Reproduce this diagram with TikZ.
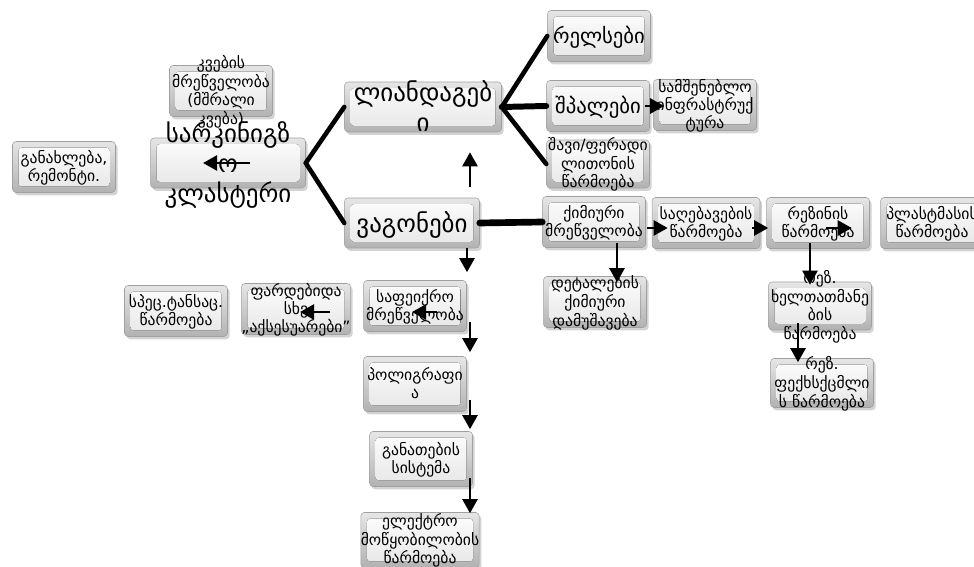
\documentclass[tikz,border=0pt]{standalone}
\usepackage{fontspec}
\setmainfont{DejaVu Sans}
\usetikzlibrary{arrows.meta,shadows,calc}
\definecolor{bevelEdge}{RGB}{160,160,160}
\definecolor{bevelDark}{RGB}{178,178,178}
\definecolor{bevelLight}{RGB}{253,253,253}
\definecolor{bevelMid}{RGB}{230,230,230}

\newcommand{\boxtext}[2][3.2pt]{\raisebox{-#1}{\begin{tabular}{@{}c@{}}#2\end{tabular}}}
\renewcommand{\arraystretch}{0.82}

\tikzset{
  boxItem/.style={rectangle, rounded corners=2pt, draw=bevelEdge, line width=0.3pt,
    top color=bevelMid, bottom color=bevelDark,
    drop shadow={opacity=0.35, shadow xshift=1.2pt, shadow yshift=-1.6pt},
    minimum width=2.06cm, minimum height=1.02cm, inner sep=0pt,
    text height=0pt, text depth=0pt,
    font=\fontsize{8.9}{12.6}\selectfont,
    path picture={\fill[top color=bevelLight, bottom color=bevelMid]
      ($(path picture bounding box.south west)+(6,-6)$) rectangle
      ($(path picture bounding box.north east)+(-6,6)$);}},
  bigText/.style={font=\fontsize{14.2}{21}\selectfont},
  trunkLine/.style={line width=2.6pt, line cap=round},
  flowArrow/.style={line width=1.5pt, -{Triangle[length=8pt,width=8.5pt]}}
}

\begin{document}
\begin{tikzpicture}[x=0.02cm, y=-0.02cm]
\useasboundingbox (0,0) rectangle (974,567);

\node[boxItem] (kveba) at (221,91) {\boxtext{კვების\\მრეწველობა\\(მშრალი\\კვება)}};
\node[boxItem, bigText, minimum width=3.1cm, minimum height=1cm] (klaster) at (228,163)
  {\boxtext[5.5pt]{სარკინიგზ\\ო\\კლასტერი}};
\node[boxItem] (ganaxl) at (64,167) {\boxtext{განახლება,\\რემონტი.}};

\node[boxItem, bigText, minimum width=3.14cm, minimum height=1cm] (liand) at (423,107)
  {\boxtext[5.5pt]{ლიანდაგებ\\ი}};
\node[boxItem, bigText, minimum width=2.7cm, minimum height=1cm] (vagon) at (412,223)
  {\boxtext[5.5pt]{ვაგონები}};

\node[boxItem] (relsi) at (599,36) {\boxtext{\fontsize{11.8}{13}\selectfont რელსები}};
\node[boxItem] (shpal) at (598,106) {\boxtext{\fontsize{11.8}{13}\selectfont შპალები}};
\node[boxItem] (samsh) at (705,105) {\boxtext{სამშენებლო\\ინფრასტრუქ\\ტურა}};
\node[boxItem, minimum height=0.96cm] (metal) at (598,164) {\boxtext{შავი/ფერადი\\ლითონის\\წარმოება}};

\node[boxItem] (kimia) at (594,222) {\boxtext{ქიმიური\\მრეწველობა}};
\node[boxItem, minimum width=2.16cm] (sagheb) at (706,223) {\boxtext{საღებავების\\წარმოება}};
\node[boxItem] (rezin) at (818,223) {\boxtext{რეზინის\\წარმოება}};
\node[boxItem] (plast) at (932,223) {\boxtext{პლასტმასის\\წარმოება}};
\node[boxItem] (detal) at (595,302) {\boxtext{დეტალების\\ქიმიური\\დამუშავება}};
\node[boxItem, minimum height=0.96cm] (xeltat) at (820,306) {\boxtext{რეზ.\\ხელთათმანე\\ბის\\წარმოება}};
\node[boxItem, minimum height=0.98cm] (fexsac) at (822,383) {\boxtext{რეზ.\\ფექხსქცმლი\\ს წარმოება}};

\node[boxItem] (specta) at (176,311) {\boxtext{სპეც.ტანსაც.\\წარმოება}};
\node[boxItem] (pardeb) at (296,309) {\boxtext{ფარდებიდა\\სხვ\\„აქსესუარები”}};
\node[boxItem] (safeiq) at (415,306) {\boxtext{საფეიქრო\\მრეწველობა}};
\node[boxItem, minimum height=1.1cm] (poligr) at (415,384) {\boxtext{პოლიგრაფი\\ა}};
\node[boxItem, minimum height=1.1cm] (ganat) at (421,459) {\boxtext{განათების\\სისტემა}};
\node[boxItem, minimum height=1.1cm] (elektr) at (420,540) {\boxtext{ელექტრო\\მოწყობილობის\\წარმოება}};

\draw[trunkLine] (klaster.east) -- (liand.west);
\draw[trunkLine] (klaster.east) -- (vagon.west);
\draw[trunkLine] (liand.east) -- (relsi.west);
\draw[trunkLine, line width=3.4pt] (liand.east) -- (shpal.west);
\draw[trunkLine] (liand.east) -- (metal.west);
\draw[trunkLine, line width=3.8pt] (vagon.east) -- (kimia.west);

\draw[flowArrow] ($(vagon.north)+(58,-11)$) -- ($(liand.south)+(47,20)$);
\draw[flowArrow] ($(vagon.south)+(55,0)$) -- ($(safeiq.north)+(52,-8)$);
\draw[flowArrow] ($(safeiq.south)+(55,-10)$) -- ($(poligr.north)+(55,-4)$);
\draw[flowArrow] ($(poligr.south)+(55,-12)$) -- ($(ganat.north)+(49,-2)$);
\draw[flowArrow] ($(ganat.south)+(49,-9)$) -- ($(elektr.north)+(50,1)$);

\draw[flowArrow] ($(kimia.south)+(23,-5)$) -- ($(detal.north)+(22,6)$);
\draw[flowArrow] ($(rezin.south)+(-8,-6)$) -- ($(xeltat.north)+(-10,3)$);
\draw[flowArrow] ($(xeltat.south)+(-22,-7)$) -- ($(fexsac.north)+(-24,4)$);

\draw[flowArrow] ($(shpal.east)+(-5,0)$) -- ($(samsh.west)+(11,1)$);
\draw[flowArrow] ($(kimia.east)+(1,6)$) -- ($(sagheb.west)+(16,5)$);
\draw[flowArrow] ($(sagheb.east)+(-8,5)$) -- ($(rezin.west)+(2,5)$);
\draw[flowArrow] ($(rezin.center)+(8,5)$) -- ($(rezin.east)+(-18,5)$);

\draw[flowArrow] ($(klaster.center)+(22,0)$) -- ($(klaster.center)+(-25,0)$);
\draw[flowArrow] ($(pardeb.center)+(34,3)$) -- ($(pardeb.center)+(4,3)$);
\draw[flowArrow] ($(safeiq.center)+(22,6)$) -- ($(safeiq.center)+(-3,6)$);

\end{tikzpicture}
\end{document}
